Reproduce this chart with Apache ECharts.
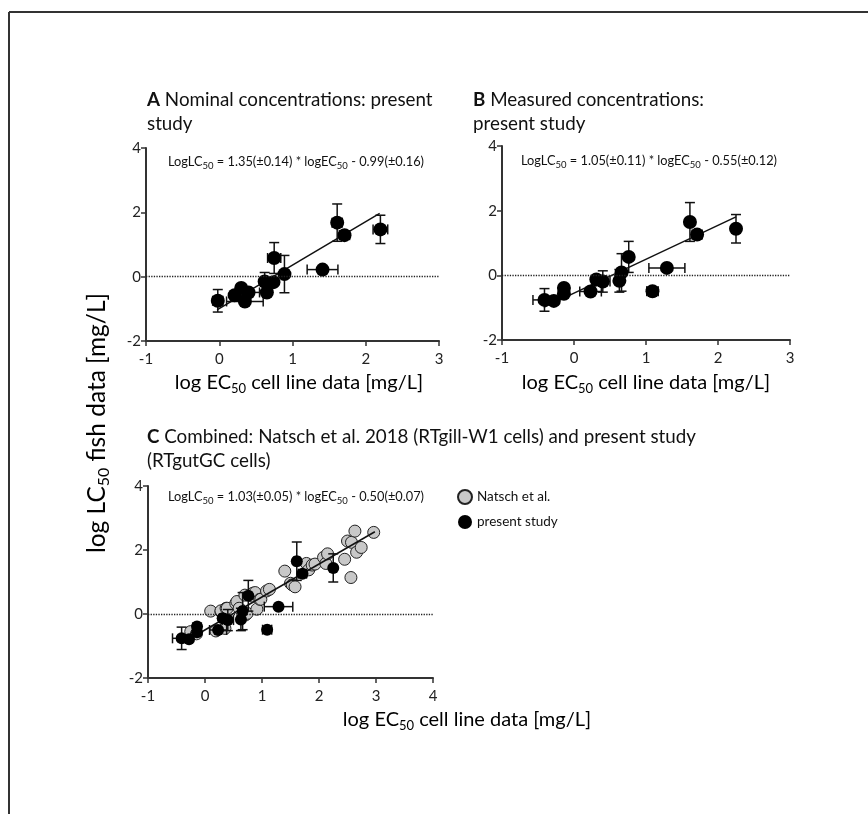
<!DOCTYPE html>
<html>
<head>
<meta charset="UTF-8" />
<title>LC50 vs EC50</title>
<script src="https://cdn.jsdelivr.net/npm/echarts/dist/echarts.min.js"></script>
<style>
  html, body { margin: 0; padding: 0; background: #fff; }
  #main { width: 868px; height: 814px; }
</style>
</head>
<body>
<div id="main"></div>
<script>
// A: nominal concentrations, present study
var nomX = [-0.02, 0.21, 0.30, 0.35, 0.40, 0.62, 0.65, 0.74, 0.75, 0.89, 1.41, 1.61, 1.71, 2.20];
var nomY = [-0.75, -0.58, -0.35, -0.77, -0.49, -0.15, -0.49, -0.17, 0.58, 0.08, 0.22, 1.68, 1.29, 1.47];
var nomXErr = [0.07, 0, 0.05, 0.25, 0.15, 0, 0, 0.05, 0.09, 0, 0.21, 0.07, 0.07, 0.10];
var nomYErr = [0.35, 0, 0, 0, 0, 0.28, 0, 0, 0.48, 0.58, 0, 0.58, 0.08, 0.44];
var nomFit = [[-0.03, -1.03], [2.19, 1.97]];

// B: measured concentrations, present study (also black points in C)
var measX = [-0.41, -0.28, -0.14, -0.14, 0.23, 0.31, 0.40, 0.63, 0.66, 0.76, 1.09, 1.29, 1.61, 1.71, 2.25];
var measY = [-0.76, -0.79, -0.39, -0.57, -0.50, -0.13, -0.19, -0.17, 0.09, 0.57, -0.49, 0.23, 1.65, 1.26, 1.44];
var measXErr = [0.16, 0, 0, 0.05, 0.15, 0.05, 0.10, 0, 0.05, 0, 0.08, 0.25, 0.05, 0.07, 0];
var measYErr = [0.35, 0, 0.10, 0.10, 0, 0, 0.33, 0.35, 0.58, 0.48, 0, 0, 0.60, 0.10, 0.44];
var measFit = [[-0.42, -0.99], [2.25, 1.81]];

// C: Natsch et al. 2018 (RTgill-W1)
var natschX = [-0.25, -0.15, 0.10, 0.19, 0.28, 0.28, 0.35, 0.37, 0.39, 0.54, 0.56, 0.60, 0.70, 0.71, 0.74,
  0.83, 0.84, 0.88, 0.91, 0.96, 0.98, 1.08, 1.13, 1.40, 1.50, 1.53, 1.58, 1.78, 1.82, 1.88, 1.93,
  2.08, 2.12, 2.15, 2.45, 2.50, 2.56, 2.57, 2.63, 2.66, 2.74, 2.96];
var natschY = [-0.55, -0.62, 0.09, -0.53, 0.07, 0.10, -0.45, 0.18, 0.18, 0.33, 0.39, 0.18, 0.59, -0.03, 0.02,
  0.56, 0.65, 0.67, 0.15, 0.46, 0.46, 0.72, 0.77, 1.34, 0.96, 0.91, 0.85, 1.58, 1.38, 1.53, 1.56,
  1.77, 1.58, 1.88, 1.71, 2.28, 1.14, 2.24, 2.59, 1.93, 2.08, 2.55];
var combFit = [[-0.42, -0.93], [2.98, 2.57]];

var yTicks = [-2, 0, 2, 4];

var FONT = 'Lato, "Open Sans", sans-serif';

function pts(xs, ys) {
  return xs.map(function (x, i) { return [x, ys[i]]; });
}
function errPts(xs, ys, xe, ye) {
  return xs.map(function (x, i) { return [x, ys[i], xe[i], ye[i]]; });
}

function errRender(params, api) {
  var x = api.value(0), y = api.value(1), ex = api.value(2), ey = api.value(3);
  var c = api.coord([x, y]);
  var st = { stroke: '#111', lineWidth: 1.5 };
  var cap = 5;
  var kids = [];
  if (ey > 0) {
    var t = api.coord([x, y + ey])[1], b = api.coord([x, y - ey])[1];
    kids.push({ type: 'line', shape: { x1: c[0], y1: t, x2: c[0], y2: b }, style: st });
    kids.push({ type: 'line', shape: { x1: c[0] - cap, y1: t, x2: c[0] + cap, y2: t }, style: st });
    kids.push({ type: 'line', shape: { x1: c[0] - cap, y1: b, x2: c[0] + cap, y2: b }, style: st });
  }
  if (ex > 0) {
    var l = api.coord([x - ex, y])[0], r = api.coord([x + ex, y])[0];
    kids.push({ type: 'line', shape: { x1: l, y1: c[1], x2: r, y2: c[1] }, style: st });
    kids.push({ type: 'line', shape: { x1: l, y1: c[1] - cap, x2: l, y2: c[1] + cap }, style: st });
    kids.push({ type: 'line', shape: { x1: r, y1: c[1] - cap, x2: r, y2: c[1] + cap }, style: st });
  }
  return { type: 'group', children: kids };
}

function xAx(idx, max) {
  return {
    gridIndex: idx, type: 'value', min: -1, max: max, interval: 1,
    splitLine: { show: false },
    axisLine: { onZero: false, lineStyle: { color: '#333', width: 2 } },
    axisTick: { length: 5, lineStyle: { color: '#333', width: 1.5 } },
    axisLabel: { color: '#222', fontSize: 15, fontFamily: FONT, margin: 11 }
  };
}
function yAx(idx) {
  return {
    gridIndex: idx, type: 'value', min: yTicks[0], max: yTicks[yTicks.length - 1], interval: 2,
    splitLine: { show: false },
    axisLine: { onZero: false, lineStyle: { color: '#333', width: 2 } },
    axisTick: { length: 5, lineStyle: { color: '#333', width: 1.5 } },
    axisLabel: { color: '#222', fontSize: 15, fontFamily: FONT, margin: 5 }
  };
}

var zeroLine = {
  silent: true, symbol: ['none', 'none'], label: { show: false },
  lineStyle: { type: 'dotted', color: '#222', width: 1.3 },
  data: [{ yAxis: 0 }]
};

var eqRich = {
  a: { fontSize: 12.8, fontFamily: FONT, fontWeight: 'normal', color: '#111', lineHeight: 16 },
  s: { fontSize: 9.5, fontFamily: FONT, fontWeight: 'normal', color: '#111', lineHeight: 12, padding: [8, 0, 0, 0] }
};
var ttlRich = {
  b: { fontSize: 18.8, fontFamily: FONT, fontWeight: 'bold', color: '#111', lineHeight: 24 },
  n: { fontSize: 18.8, fontFamily: FONT, fontWeight: 'normal', color: '#111', lineHeight: 24 }
};
function axRich(size) {
  return {
    a: { fontSize: size, fontFamily: FONT, color: '#111', lineHeight: size + 4 },
    s: { fontSize: Math.round(size * 0.66), fontFamily: FONT, color: '#111', lineHeight: size - 4, padding: [Math.round(size * 0.55), 0, 0, 0] }
  };
}

var chart = echarts.init(document.getElementById('main'));

var option = {
  backgroundColor: '#fff',
  animation: false,
  grid: [
    { left: 146, top: 148, width: 293, height: 193 },
    { left: 502, top: 146, width: 288, height: 194 },
    { left: 148, top: 486, width: 285, height: 192 }
  ],
  xAxis: [xAx(0, 3), xAx(1, 3), xAx(2, 4)],
  yAxis: [yAx(0), yAx(1), yAx(2)],
  title: [
    { left: 147, top: 88, padding: 0, text: '{b|A}{n| Nominal concentrations: present}\n{n|study}', textStyle: { fontWeight: 'normal', rich: ttlRich } },
    { left: 473, top: 88, padding: 0, text: '{b|B}{n| Measured concentrations:}\n{n|present study}', textStyle: { fontWeight: 'normal', rich: ttlRich } },
    { left: 147, top: 425, padding: 0, text: '{b|C}{n| Combined: Natsch et al. 2018 (RTgill-W1 cells) and present study}\n{n|(RTgutGC cells)}', textStyle: { fontWeight: 'normal', rich: ttlRich } },
    { left: 168, top: 154, padding: 0, text: '{a|LogLC}{s|50}{a| = 1.35(\u00b10.14) * logEC}{s|50}{a| - 0.99(\u00b10.16)}', textStyle: { fontWeight: 'normal', rich: eqRich } },
    { left: 521, top: 153, padding: 0, text: '{a|LogLC}{s|50}{a| = 1.05(\u00b10.11) * logEC}{s|50}{a| - 0.55(\u00b10.12)}', textStyle: { fontWeight: 'normal', rich: eqRich } },
    { left: 168, top: 489, padding: 0, text: '{a|LogLC}{s|50}{a| = 1.03(\u00b10.05) * logEC}{s|50}{a| - 0.50(\u00b10.07)}', textStyle: { fontWeight: 'normal', rich: eqRich } }
  ],
  legend: {
    left: 457, top: 489, orient: 'vertical', itemGap: 10, padding: 0,
    itemWidth: 14, itemHeight: 14, itemTextGap: 9, icon: 'circle',
    data: ['Natsch et al.', 'present study'],
    textStyle: { fontSize: 13.5, fontFamily: FONT, color: '#111' }
  },
  graphic: [
    { type: 'line', shape: { x1: 9, y1: 12, x2: 868, y2: 12 }, style: { stroke: '#333', lineWidth: 2 } },
    { type: 'line', shape: { x1: 9, y1: 12, x2: 9, y2: 814 }, style: { stroke: '#333', lineWidth: 2 } },
    {
      type: 'text', x: 97, y: 423, rotation: Math.PI / 2,
      style: { text: '{a|log LC}{s|50}{a| fish data [mg/L]}', rich: axRich(24.5), align: 'center', verticalAlign: 'middle' }
    },
    { type: 'text', x: 299, y: 383, style: { text: '{a|log EC}{s|50}{a| cell line data [mg/L]}', rich: axRich(20), align: 'center', verticalAlign: 'middle' } },
    { type: 'text', x: 646, y: 383, style: { text: '{a|log EC}{s|50}{a| cell line data [mg/L]}', rich: axRich(20), align: 'center', verticalAlign: 'middle' } },
    { type: 'text', x: 467, y: 720, style: { text: '{a|log EC}{s|50}{a| cell line data [mg/L]}', rich: axRich(20), align: 'center', verticalAlign: 'middle' } }
  ],
  series: [
    // panel A
    { type: 'custom', xAxisIndex: 0, yAxisIndex: 0, renderItem: errRender, data: errPts(nomX, nomY, nomXErr, nomYErr), z: 2, silent: true },
    { type: 'line', xAxisIndex: 0, yAxisIndex: 0, data: nomFit, showSymbol: false, lineStyle: { color: '#111', width: 1.5 }, markLine: zeroLine, z: 3, silent: true },
    { name: 'nominal', type: 'scatter', xAxisIndex: 0, yAxisIndex: 0, data: pts(nomX, nomY), symbolSize: 14, itemStyle: { color: '#000', opacity: 1 }, z: 4 },
    // panel B
    { type: 'custom', xAxisIndex: 1, yAxisIndex: 1, renderItem: errRender, data: errPts(measX, measY, measXErr, measYErr), z: 2, silent: true },
    { type: 'line', xAxisIndex: 1, yAxisIndex: 1, data: measFit, showSymbol: false, lineStyle: { color: '#111', width: 1.5 }, markLine: zeroLine, z: 3, silent: true },
    { name: 'measured', type: 'scatter', xAxisIndex: 1, yAxisIndex: 1, data: pts(measX, measY), symbolSize: 14, itemStyle: { color: '#000', opacity: 1 }, z: 4 },
    // panel C
    { name: 'Natsch et al.', type: 'scatter', xAxisIndex: 2, yAxisIndex: 2, data: pts(natschX, natschY), symbolSize: 12,
      itemStyle: { color: '#c8c8c8', borderColor: '#222', borderWidth: 1, opacity: 1 }, z: 2 },
    { type: 'line', xAxisIndex: 2, yAxisIndex: 2, data: combFit, showSymbol: false, lineStyle: { color: '#111', width: 1.5 }, markLine: zeroLine, z: 3, silent: true },
    { type: 'custom', xAxisIndex: 2, yAxisIndex: 2, renderItem: errRender, data: errPts(measX, measY, measXErr, measYErr), z: 4, silent: true },
    { name: 'present study', type: 'scatter', xAxisIndex: 2, yAxisIndex: 2, data: pts(measX, measY), symbolSize: 12, itemStyle: { color: '#000', opacity: 1 }, z: 5 }
  ]
};

chart.setOption(option);
</script>
</body>
</html>
